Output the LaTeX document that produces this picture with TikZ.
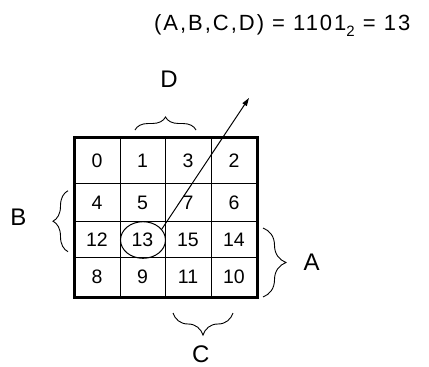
\documentclass[tikz,border=0pt]{standalone}
\usepackage{fontspec}
\setmainfont{Liberation Sans}
\newfontfamily\spacedfont[LetterSpace=9]{Liberation Sans}
\usetikzlibrary{decorations.pathreplacing,arrows.meta,shapes.geometric}
\begin{document}
\begin{tikzpicture}[x=1pt,y=1pt,
  num/.style={font=\fontsize{19.5}{19.5}\selectfont, inner sep=0pt},
  lab/.style={font=\fontsize{24}{24}\selectfont, inner sep=0pt},
  brc/.style={decorate, decoration={brace, amplitude=#1}, line width=0.9pt},
  thin/.style={line width=1pt},
  thick/.style={line width=3pt},
]
\useasboundingbox (0,0) rectangle (429,-367);
% grid
\draw[thin] (120,-137.5) -- (120,-297);
\draw[thin] (165,-137.5) -- (165,-297);
\draw[thin] (211,-137.5) -- (211,-297);
\draw[thin] (74,-183.5) -- (257,-183.5);
\draw[thin] (74,-221.5) -- (257,-221.5);
\draw[thin] (74,-257.5) -- (257,-257.5);
\draw[thick] (74,-137.5) rectangle (257,-297);
% numbers
\node[num] (n0)  at (97,-160.5) {0};
\node[num] (n1)  at (142.5,-160.5) {1};
\node[num] (n3)  at (188,-160.5) {3};
\node[num] (n2)  at (234,-160.5) {2};
\node[num] (n4)  at (97,-202.5) {4};
\node[num] (n5)  at (142.5,-202.5) {5};
\node[num] (n7)  at (188,-202.5) {7};
\node[num] (n6)  at (234,-202.5) {6};
\node[num] (n12) at (97,-239.5) {12};
\node[num] (n13) at (142.5,-239.5) {13};
\node[num] (n15) at (188,-239.5) {15};
\node[num] (n14) at (234,-239.5) {14};
\node[num] (n8)  at (97,-277) {8};
\node[num] (n9)  at (142.5,-277) {9};
\node[num] (n11) at (188,-277) {11};
\node[num] (n10) at (234,-277) {10};
% ellipse round 13
\node[draw, thin, ellipse, minimum width=45pt, minimum height=36.6pt, inner sep=0pt] (e13) at (143,-240) {};
% top text
\node[anchor=base west, inner sep=0pt, font=\fontsize{22}{22}\spacedfont] (eq) at (154,-30.5)
  {(A,B,C,D) = 1101\raisebox{-6pt}{\fontsize{15}{15}\selectfont 2} = 13};
\coordinate (tip) at (249,-98);
\draw[thin, -{Triangle[length=8pt,width=5pt]}] (e13.30) -- (tip);
% braces
\draw[brc=13] (135,-130) -- (196,-130);
\draw[brc=15] (68,-251.7) -- (68,-190.7);
\draw[brc=23] (263,-228) -- (263,-297);
\draw[brc=22] (233,-313) -- (173,-313);
% labels
\node[lab] (D) at (169,-79) {D};
\node[lab] (B) at (18.3,-217) {B};
\node[lab] (A) at (311.7,-262.5) {A};
\node[lab] (C) at (200.7,-354) {C};
\end{tikzpicture}
\end{document}
